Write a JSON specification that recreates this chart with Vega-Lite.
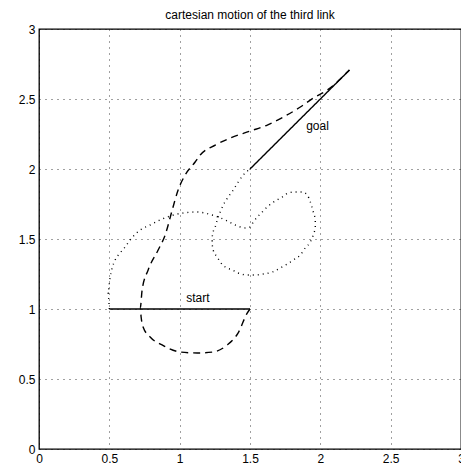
{
  "$schema": "https://vega.github.io/schema/vega-lite/v6.json",
  "autosize": "none",
  "width": 422,
  "height": 420,
  "padding": {"left": 39, "top": 29, "right": 0, "bottom": 17},
  "background": "white",
  "title": {"text": "cartesian motion of the third link", "font": "Liberation Sans", "fontSize": 12, "fontWeight": "normal", "color": "black", "offset": 1, "anchor": "middle"},
  "config": {
    "view": {"stroke": "black", "strokeWidth": 1.3},
    "axis": {"labelFont": "Liberation Sans", "labelFontSize": 12, "labelColor": "black", "domain": false, "tickColor": "black", "tickSize": 0, "labelPadding": 4, "grid": true, "gridColor": "black", "gridDash": [1, 5], "gridOpacity": 0.75, "gridWidth": 1, "title": null, "labelFlush": false, "format": "~g"}
  },
  "datasets": {
    "curves": [
      {"s": "start", "i": 0, "x": 0.5, "y": 1.0},
      {"s": "start", "i": 1, "x": 1.5, "y": 1.0},
      {"s": "goal", "i": 0, "x": 1.5, "y": 2.0},
      {"s": "goal", "i": 1, "x": 2.207, "y": 2.707},
      {"s": "end", "i": 0, "x": 1.5, "y": 1.0},
      {"s": "end", "i": 1, "x": 1.48, "y": 0.97},
      {"s": "end", "i": 2, "x": 1.416, "y": 0.83},
      {"s": "end", "i": 3, "x": 1.338, "y": 0.743},
      {"s": "end", "i": 4, "x": 1.238, "y": 0.693},
      {"s": "end", "i": 5, "x": 1.125, "y": 0.686},
      {"s": "end", "i": 6, "x": 1.004, "y": 0.693},
      {"s": "end", "i": 7, "x": 0.875, "y": 0.743},
      {"s": "end", "i": 8, "x": 0.79, "y": 0.8},
      {"s": "end", "i": 9, "x": 0.74, "y": 0.871},
      {"s": "end", "i": 10, "x": 0.726, "y": 0.943},
      {"s": "end", "i": 11, "x": 0.72, "y": 1.007},
      {"s": "end", "i": 12, "x": 0.733, "y": 1.136},
      {"s": "end", "i": 13, "x": 0.776, "y": 1.279},
      {"s": "end", "i": 14, "x": 0.847, "y": 1.421},
      {"s": "end", "i": 15, "x": 0.897, "y": 1.529},
      {"s": "end", "i": 16, "x": 0.947, "y": 1.707},
      {"s": "end", "i": 17, "x": 0.989, "y": 1.85},
      {"s": "end", "i": 18, "x": 1.039, "y": 1.957},
      {"s": "end", "i": 19, "x": 1.11, "y": 2.05},
      {"s": "end", "i": 20, "x": 1.146, "y": 2.1},
      {"s": "end", "i": 21, "x": 1.253, "y": 2.171},
      {"s": "end", "i": 22, "x": 1.359, "y": 2.221},
      {"s": "end", "i": 23, "x": 1.502, "y": 2.271},
      {"s": "end", "i": 24, "x": 1.623, "y": 2.314},
      {"s": "end", "i": 25, "x": 1.737, "y": 2.371},
      {"s": "end", "i": 26, "x": 1.858, "y": 2.443},
      {"s": "end", "i": 27, "x": 1.95, "y": 2.507},
      {"s": "end", "i": 28, "x": 2.05, "y": 2.564},
      {"s": "end", "i": 29, "x": 2.207, "y": 2.707},
      {"s": "base", "i": 0, "x": 0.5, "y": 1.0},
      {"s": "base", "i": 1, "x": 0.49, "y": 1.12},
      {"s": "base", "i": 2, "x": 0.505, "y": 1.221},
      {"s": "base", "i": 3, "x": 0.52, "y": 1.293},
      {"s": "base", "i": 4, "x": 0.541, "y": 1.35},
      {"s": "base", "i": 5, "x": 0.576, "y": 1.4},
      {"s": "base", "i": 6, "x": 0.612, "y": 1.443},
      {"s": "base", "i": 7, "x": 0.648, "y": 1.493},
      {"s": "base", "i": 8, "x": 0.719, "y": 1.564},
      {"s": "base", "i": 9, "x": 0.79, "y": 1.6},
      {"s": "base", "i": 10, "x": 0.861, "y": 1.636},
      {"s": "base", "i": 11, "x": 0.932, "y": 1.664},
      {"s": "base", "i": 12, "x": 1.025, "y": 1.686},
      {"s": "base", "i": 13, "x": 1.125, "y": 1.693},
      {"s": "base", "i": 14, "x": 1.203, "y": 1.679},
      {"s": "base", "i": 15, "x": 1.324, "y": 1.636},
      {"s": "base", "i": 16, "x": 1.395, "y": 1.6},
      {"s": "base", "i": 17, "x": 1.431, "y": 1.586},
      {"s": "base", "i": 18, "x": 1.466, "y": 1.579},
      {"s": "base", "i": 19, "x": 1.502, "y": 1.586},
      {"s": "base", "i": 20, "x": 1.523, "y": 1.621},
      {"s": "base", "i": 21, "x": 1.552, "y": 1.657},
      {"s": "base", "i": 22, "x": 1.587, "y": 1.693},
      {"s": "base", "i": 23, "x": 1.623, "y": 1.729},
      {"s": "base", "i": 24, "x": 1.658, "y": 1.757},
      {"s": "base", "i": 25, "x": 1.694, "y": 1.779},
      {"s": "base", "i": 26, "x": 1.73, "y": 1.8},
      {"s": "base", "i": 27, "x": 1.772, "y": 1.829},
      {"s": "base", "i": 28, "x": 1.822, "y": 1.836},
      {"s": "base", "i": 29, "x": 1.872, "y": 1.836},
      {"s": "base", "i": 30, "x": 1.907, "y": 1.814},
      {"s": "base", "i": 31, "x": 1.929, "y": 1.764},
      {"s": "base", "i": 32, "x": 1.95, "y": 1.693},
      {"s": "base", "i": 33, "x": 1.964, "y": 1.636},
      {"s": "base", "i": 34, "x": 1.964, "y": 1.586},
      {"s": "base", "i": 35, "x": 1.95, "y": 1.529},
      {"s": "base", "i": 36, "x": 1.929, "y": 1.479},
      {"s": "base", "i": 37, "x": 1.893, "y": 1.436},
      {"s": "base", "i": 38, "x": 1.858, "y": 1.386},
      {"s": "base", "i": 39, "x": 1.808, "y": 1.35},
      {"s": "base", "i": 40, "x": 1.765, "y": 1.321},
      {"s": "base", "i": 41, "x": 1.715, "y": 1.293},
      {"s": "base", "i": 42, "x": 1.658, "y": 1.264},
      {"s": "base", "i": 43, "x": 1.594, "y": 1.25},
      {"s": "base", "i": 44, "x": 1.537, "y": 1.243},
      {"s": "base", "i": 45, "x": 1.48, "y": 1.243},
      {"s": "base", "i": 46, "x": 1.416, "y": 1.257},
      {"s": "base", "i": 47, "x": 1.374, "y": 1.279},
      {"s": "base", "i": 48, "x": 1.324, "y": 1.3},
      {"s": "base", "i": 49, "x": 1.288, "y": 1.336},
      {"s": "base", "i": 50, "x": 1.267, "y": 1.371},
      {"s": "base", "i": 51, "x": 1.238, "y": 1.421},
      {"s": "base", "i": 52, "x": 1.231, "y": 1.471},
      {"s": "base", "i": 53, "x": 1.231, "y": 1.507},
      {"s": "base", "i": 54, "x": 1.238, "y": 1.55},
      {"s": "base", "i": 55, "x": 1.253, "y": 1.586},
      {"s": "base", "i": 56, "x": 1.267, "y": 1.636},
      {"s": "base", "i": 57, "x": 1.288, "y": 1.693},
      {"s": "base", "i": 58, "x": 1.31, "y": 1.743},
      {"s": "base", "i": 59, "x": 1.345, "y": 1.8},
      {"s": "base", "i": 60, "x": 1.381, "y": 1.85},
      {"s": "base", "i": 61, "x": 1.416, "y": 1.907},
      {"s": "base", "i": 62, "x": 1.452, "y": 1.957},
      {"s": "base", "i": 63, "x": 1.5, "y": 2.0}
    ],
    "labels": [
      {"label": "start", "x": 1.13, "y": 1.08},
      {"label": "goal", "x": 1.98, "y": 2.31}
    ]
  },
  "layer": [
    {
      "data": {"name": "curves"},
      "mark": {"type": "line", "color": "black", "strokeWidth": 1.4, "interpolate": "monotone"},
      "encoding": {
        "x": {"field": "x", "type": "quantitative", "scale": {"domain": [0, 3], "nice": false}, "axis": {"values": [0, 0.5, 1, 1.5, 2, 2.5, 3]}},
        "y": {"field": "y", "type": "quantitative", "scale": {"domain": [0, 3], "nice": false}, "axis": {"values": [0, 0.5, 1, 1.5, 2, 2.5, 3]}},
        "detail": {"field": "s"},
        "order": {"field": "i", "type": "quantitative"},
        "strokeDash": {"field": "s", "type": "nominal", "scale": {"domain": ["start", "goal", "end", "base"], "range": [[1, 0], [1, 0], [7, 5], [1, 4]]}, "legend": null}
      }
    },
    {
      "data": {"name": "labels"},
      "mark": {"type": "text", "font": "Liberation Sans", "fontSize": 12, "color": "black"},
      "encoding": {
        "x": {"field": "x", "type": "quantitative"},
        "y": {"field": "y", "type": "quantitative"},
        "text": {"field": "label"}
      }
    }
  ]
}
